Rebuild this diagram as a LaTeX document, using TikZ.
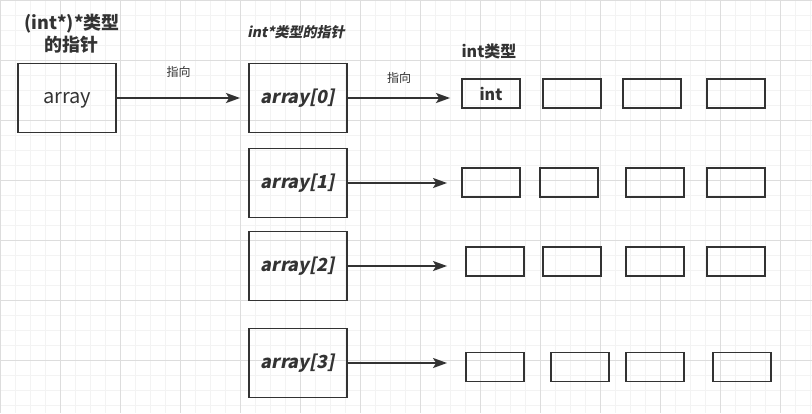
\documentclass[tikz,border=0pt]{standalone}
\usepackage{fontspec}
\setmainfont{Noto Sans CJK SC}
\newfontfamily\slanted{Noto Sans CJK SC}[FakeSlant = 0.2]
\usetikzlibrary{arrows.meta}

\definecolor{ink}{HTML}{333333}
\definecolor{gridminor}{HTML}{F3F3F3}
\definecolor{gridmajor}{HTML}{DDDDDD}

\begin{document}
\begin{tikzpicture}[x = 1pt, y = -1pt, > = {Stealth[length = 14pt, width = 10pt, inset = 3pt]},
	box/.style = {draw = ink, line width = 1.9pt, minimum width = 98pt, minimum height = 69pt, inner sep = 0pt, text = ink},
	cell/.style = {draw = ink, line width = 1.9pt, minimum width = 58pt, minimum height = 29pt, inner sep = 0pt, text = ink},
	link/.style = {->, draw = ink, line width = 1.8pt},
	tag/.style = {text = ink, inner sep = 0pt, font = \fontsize{12}{14}\selectfont}]
	
	\useasboundingbox (0, 0) rectangle (812, 413);
	
	% Background grid
	
	\foreach \gx in {0, 15, ..., 810}
		\draw [gridminor, line width = 0.6pt] (\gx, 0) -- (\gx, 413);
	\foreach \gy in {0, 15, ..., 405}
		\draw [gridminor, line width = 0.6pt] (0, \gy) -- (812, \gy);
	\foreach \gx in {0, 60, ..., 780}
		\draw [gridmajor, line width = 0.6pt] (\gx, 0) -- (\gx, 413);
	\foreach \gy in {0, 60, ..., 360}
		\draw [gridmajor, line width = 0.6pt] (0, \gy) -- (812, \gy);
	
	% Pointer to pointer w heading
	
	\node [align = center, text = ink, font = \bfseries\fontsize{18}{22}\selectfont] (head) at (72, 34) {(int*)*类型\\的指针};
	\node [box, text depth = 0pt, font = \fontsize{20}{24}\selectfont] (arr) at (67, 98) {array};
	
	% Row pointers w heading
	
	\node [text = ink, font = \slanted\bfseries\fontsize{14}{16}\selectfont] (phead) at (296, 32) {int*类型的指针};
	
	\foreach \r/\y in {0/98, 1/183, 2/266, 3/363}
		\node [box, font = \slanted\bfseries\fontsize{18}{22}\selectfont] (a\r) at (298, \y) {array[\r]};
	
	% Int cells, one row per pointer
	
	\node [text = ink, font = \bfseries\fontsize{16}{18}\selectfont] (ihead) at (489, 51) {int类型};
	
	\node [cell, font = \bfseries\fontsize{16}{18}\selectfont] (c01) at (491, 93.5) {int};
	\foreach \i/\x in {2/572, 3/652, 4/736}
		\node [cell] (c0\i) at (\x, 93.5) {};
	
	\foreach \i/\x in {1/491, 2/569, 3/655, 4/736}
		\node [cell] (c1\i) at (\x, 182.5) {};
	
	\foreach \i/\x in {1/495, 2/572, 3/655, 4/736}
		\node [cell] (c2\i) at (\x, 261.5) {};
	
	\foreach \i/\x in {1/495, 2/580, 3/655, 4/742}
		\node [cell] (c3\i) at (\x, 367) {};
	
	% Arrows w labels
	
	\draw [link] (arr.east) -- node [tag, above = 20pt] (p1) {指向} ([xshift = -8pt] a0.west);
	\draw [link] (a0.east) -- node [tag, above = 14pt] (p2) {指向} ([xshift = -11pt] c01.west |- a0.east);
	
	\foreach \r in {1, 2, 3}
		\draw [link] (a\r.east) -- ([xshift = -14pt] c11.west |- a\r.east);
	
\end{tikzpicture}
\end{document}
